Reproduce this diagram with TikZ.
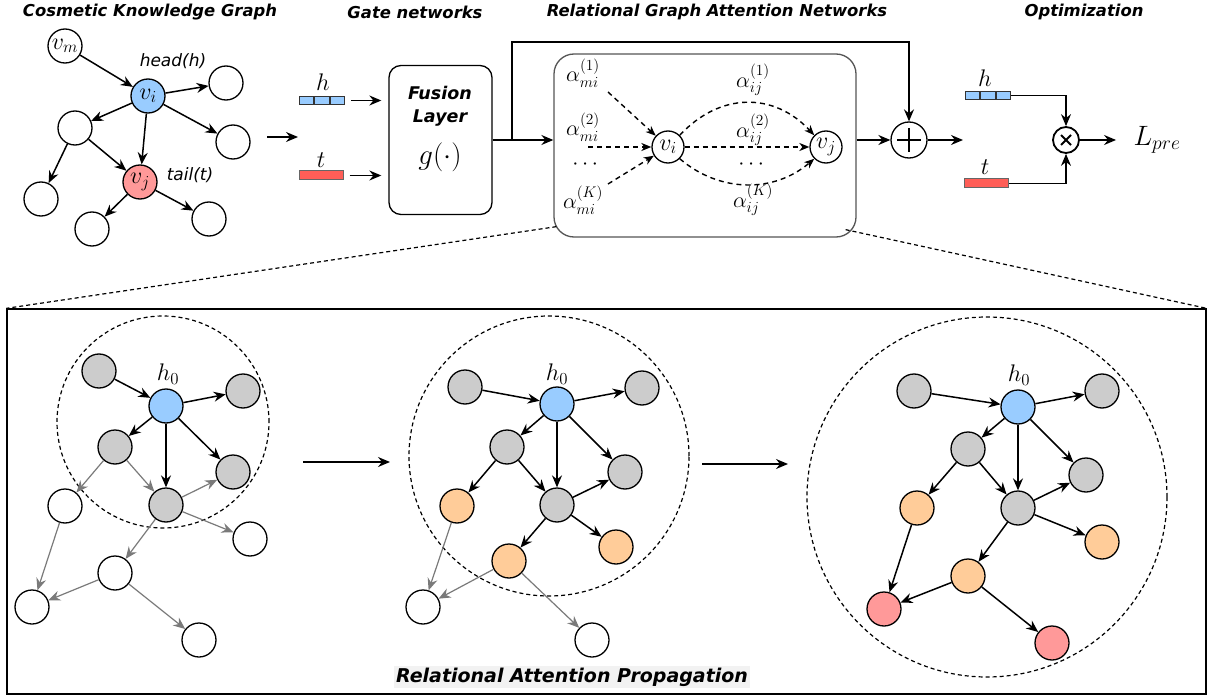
\RequirePackage{fix-cm}
\documentclass[tikz,border=0pt]{standalone}
\usepackage{amsmath}
\usepackage{fontspec}
\newfontfamily\labelfont{DejaVu Sans}[BoldFont={DejaVu Sans Bold},
  ItalicFont={DejaVu Sans Oblique},BoldItalicFont={DejaVu Sans Bold Oblique}]
\usepackage{tikz}
\usetikzlibrary{arrows.meta,positioning}

\definecolor{headblue}{HTML}{99CCFF}
\definecolor{tailred}{HTML}{FF9999}
\definecolor{barred}{HTML}{FF5E57}
\definecolor{hopgray}{HTML}{CCCCCC}
\definecolor{hoporange}{HTML}{FFCC99}
\definecolor{fadegray}{HTML}{7A7A7A}
\definecolor{boxgray}{HTML}{555555}
\definecolor{tagbg}{HTML}{F2F2F2}

\newcommand{\headfont}{\labelfont\bfseries\itshape\fontsize{16.4}{19}\selectfont}

\begin{document}
\begin{tikzpicture}[x=1pt,y=-1pt,>={Stealth[length=12pt,width=10pt,inset=4pt]},
  headline/.style={font=\headfont},
  kgnode/.style={circle,draw,line width=1.3pt,minimum size=34pt,inner sep=0pt,
    fill=white,font=\fontsize{24}{26}\selectfont},
  hop/.style={circle,draw,line width=1.3pt,minimum size=34pt,inner sep=0pt},
  kglink/.style={->,line width=1.5pt},
  fadelink/.style={->,line width=1.2pt,draw=fadegray},
  attn/.style={-{Stealth[length=10pt,width=8pt,inset=3pt]},line width=1.4pt,
    dash pattern=on 5pt off 4pt},
  ring/.style={circle,draw,line width=1.2pt,dash pattern=on 4pt off 3pt,inner sep=0pt},
  hcell/.style={draw=black!80,line width=1pt,fill=headblue,minimum width=14.5pt,
    minimum height=8pt,inner sep=0pt},
  tcell/.style={draw=black!60,line width=1pt,fill=barred,minimum width=44pt,
    minimum height=9pt,inner sep=0pt},
  mathtag/.style={font=\fontsize{24}{26}\selectfont,inner sep=0pt},
  alphatag/.style={font=\fontsize{22}{24}\selectfont,inner sep=0pt},
  sidetag/.style={font=\labelfont\itshape\fontsize{17}{20}\selectfont},
  boldtag/.style={font=\labelfont\bfseries\itshape\fontsize{17.5}{20}\selectfont}]
  \path[use as bounding box,fill=white] (0,0) rectangle (1208,698);

  % column titles
  \node[headline] (ttlkg) at (150,12) {Cosmetic Knowledge Graph};
  \node[headline] (ttlgate) at (415,12) {Gate networks};
  \node[headline] (ttlrgat) at (717,12) {Relational Graph Attention Networks};
  \node[headline] (ttlopt) at (1084,12) {Optimization};

  % knowledge graph
  \foreach \n/\x/\y/\c/\t in {vm/65/46/white/{$v_m$}, vi/148/96/headblue/{$v_i$},
    va/226/83/white/{}, vb/233/142/white/{}, vc/75/128/white/{},
    vj/140/182/tailred/{$v_j$}, vd/41/199/white/{}, ve/92/229/white/{},
    vf/209/219/white/{}}
    \node[kgnode,fill=\c] (\n) at (\x,\y) {\t};
  \foreach \a/\b in {vm/vi,vi/va,vi/vb,vi/vc,vi/vj,vc/vj,vc/vd,vj/ve,vj/vf}
    \draw[kglink] (\a) -- (\b);
  \node[sidetag] (headtag) at (173,61) {head(h)};
  \node[sidetag] (tailtag) at (190,175) {tail(t)};
  \coordinate (kgout) at (267,137);
  \coordinate (gatein) at (298,137);
  \draw[kglink] (kgout) -- (gatein);

  % gate networks
  \node[mathtag] (hname) at (323,82) {$h$};
  \node[hcell] (hc1) at (306.25,100.5) {};
  \node[hcell,right=0pt of hc1] (hc2) {};
  \node[hcell,right=0pt of hc2] (hc3) {};
  \node[mathtag] (tname) at (321,160) {$t$};
  \node[tcell] (tc) at (321,175.5) {};
  \node[draw,line width=1.3pt,rounded corners=12pt,minimum width=103pt,
    minimum height=149pt] (fusion) at (440.5,140) {};
  \node[boldtag] (fusetxt) at (440,93) {Fusion};
  \node[boldtag] (layertxt) at (440,118) {Layer};
  \node[font=\fontsize{29}{31}\selectfont] (gfun) at (440,157) {$g(\cdot)$};
  \draw[kglink,shorten <=6pt,shorten >=7pt] (hc3.east) -- (hc3.east -| fusion.west);
  \draw[kglink,shorten <=6pt,shorten >=7pt] (tc.east) -- (tc.east -| fusion.west);

  % relational graph attention
  \node[draw=boxgray,line width=1.3pt,rounded corners=20pt,minimum width=302pt,
    minimum height=183pt] (rgat) at (705,145.5) {};
  \draw[kglink] (fusion.east) -- (rgat.west |- fusion.east);
  \node[kgnode,minimum size=32pt] (ri) at (668,147) {$v_i$};
  \node[kgnode,minimum size=32pt] (rj) at (826,147) {$v_j$};
  \foreach \n/\x/\y/\t in {am1/583/73/{$\alpha_{mi}^{(1)}$},
    am2/583/127/{$\alpha_{mi}^{(2)}$}, amd/587/165/{$\cdots$},
    amk/583/200/{$\alpha_{mi}^{(K)}$}, aj1/753/80/{$\alpha_{ij}^{(1)}$},
    aj2/753/130/{$\alpha_{ij}^{(2)}$}, ajd/753/165/{$\cdots$},
    ajk/753/200/{$\alpha_{ij}^{(K)}$}}
    \node[alphatag] (\n) at (\x,\y) {\t};
  \coordinate (s1) at (608,92);
  \coordinate (s2) at (588,147);
  \coordinate (s3) at (608,184);
  \foreach \s in {s1,s2,s3}
    \draw[attn] (\s) -- (ri);
  \draw[attn] (ri) -- (rj);
  \draw[attn] (ri.north east) .. controls (720,92) and (774,92) .. (rj.north west);
  \draw[attn] (ri.south east) .. controls (720,193) and (774,193) .. (rj.south west);

  % optimization
  \node[circle,draw,line width=1.3pt,minimum size=36pt,inner sep=0pt] (oplus) at (909,140) {};
  \draw[line width=1.3pt] ([yshift=12pt]oplus.center) -- ([yshift=-12pt]oplus.center)
    ([xshift=-12pt]oplus.center) -- ([xshift=12pt]oplus.center);
  \draw[kglink] (rgat.east |- oplus.west) -- (oplus.west);
  \coordinate (split) at (512,140);
  \coordinate (bend) at (512,42);
  \draw[kglink] (split) -- (bend) -| (oplus.north);
  \coordinate (optin) at (963,140);
  \draw[kglink] (oplus.east) -- (optin);
  \node[mathtag] (hname2) at (985,78) {$h$};
  \node[hcell] (hd1) at (972.25,95.5) {};
  \node[hcell,right=0pt of hd1] (hd2) {};
  \node[hcell,right=0pt of hd2] (hd3) {};
  \node[mathtag] (tname2) at (985,167) {$t$};
  \node[tcell] (td) at (986.5,183.5) {};
  \node[circle,draw,line width=1.8pt,minimum size=26pt,inner sep=0pt] (otimes) at (1066,140) {};
  \draw[line width=2pt] ([shift={(-5,-5)}]otimes.center) -- ([shift={(5,5)}]otimes.center)
    ([shift={(-5,5)}]otimes.center) -- ([shift={(5,-5)}]otimes.center);
  \draw[kglink,line width=1.1pt] (hd3.east) -| (otimes.north);
  \draw[kglink,line width=1.1pt] (td.east) -| (otimes.south);
  \node[font=\fontsize{28}{30}\selectfont] (lpre) at (1157,140) {$L_{pre}$};
  \draw[kglink,shorten >=14pt] (otimes.east) -- (lpre.west);

  % propagation panel
  \node[draw,line width=1.3pt,minimum width=1199pt,minimum height=385pt,inner sep=0pt]
    (panel) at (606.5,501.5) {};
  \coordinate (zl) at ([xshift=3pt,yshift=11pt]rgat.south west);
  \coordinate (zr) at ([xshift=-11pt,yshift=8pt]rgat.south east);
  \draw[line width=1.2pt,dash pattern=on 4pt off 3pt] (zl) -- (panel.north west);
  \draw[line width=1.2pt,dash pattern=on 4pt off 3pt] (zr) -- (panel.north east);
  \node[ring,minimum size=212pt] (ringa) at (163,422) {};
  \node[ring,minimum size=280pt] (ringb) at (549,456) {};
  \node[ring,minimum size=360pt] (ringc) at (987,497) {};

  % first hop
  \foreach \n/\x/\y/\c in {a0/166/406/headblue, a1/99/371/hopgray, a2/243/391/hopgray,
    a3/115/447/hopgray, a4/233/472/hopgray, a5/166/505/hopgray, a6/65/506/white,
    a7/250/539/white, a8/115/573/white, a9/32/607/white, a10/199/640/white}
    \node[hop,fill=\c] (\n) at (\x,\y) {};
  \foreach \a/\b in {a1/a0,a0/a2,a0/a3,a0/a4,a0/a5}
    \draw[kglink] (\a) -- (\b);
  \foreach \a/\b in {a3/a6,a3/a5,a5/a4,a5/a7,a5/a8,a6/a9,a8/a9,a8/a10}
    \draw[fadelink] (\a) -- (\b);
  \node[mathtag] (hza) at (168,374) {$h_0$};

  % second hop
  \foreach \n/\x/\y/\c in {b0/557/404/headblue, b1/465/387/hopgray, b2/642/388/hopgray,
    b3/507/447/hopgray, b4/625/472/hopgray, b5/557/505/hopgray, b6/457/506/hoporange,
    b7/616/547/hoporange, b8/509/561/hoporange, b9/423/607/white, b10/592/640/white}
    \node[hop,fill=\c] (\n) at (\x,\y) {};
  \foreach \a/\b in {b1/b0,b0/b2,b0/b3,b0/b5,b0/b4,b3/b6,b3/b5,b5/b4,b5/b8,b5/b7}
    \draw[kglink] (\a) -- (\b);
  \foreach \a/\b in {b6/b9,b8/b9,b8/b10}
    \draw[fadelink] (\a) -- (\b);
  \node[mathtag] (hzb) at (557,374) {$h_0$};

  % third hop
  \foreach \n/\x/\y/\c in {c0/1018/407/headblue, c1/914/391/hopgray, c2/1102/391/hopgray,
    c3/968/449/hopgray, c4/1086/475/hopgray, c5/1018/508/hopgray, c6/917/508/hoporange,
    c7/1102/542/hoporange, c8/968/576/hoporange, c9/884/609/tailred, c10/1052/643/tailred}
    \node[hop,fill=\c] (\n) at (\x,\y) {};
  \foreach \a/\b in {c1/c0,c0/c2,c0/c3,c0/c5,c0/c4,c3/c6,c3/c5,c5/c4,c5/c7,c5/c8,
    c6/c9,c8/c9,c8/c10}
    \draw[kglink] (\a) -- (\b);
  \node[mathtag] (hzc) at (1019,375) {$h_0$};

  % steps between hops
  \coordinate (p1out) at (303,462);
  \coordinate (p2in) at (390,462);
  \coordinate (p2out) at (702,464);
  \coordinate (p3in) at (788,464);
  \draw[kglink] (p1out) -- (p2in);
  \draw[kglink] (p2out) -- (p3in);
  \node[fill=tagbg,inner sep=2pt,font=\labelfont\bfseries\itshape\fontsize{19}{22}\selectfont]
    (raptag) at (572,677) {Relational Attention Propagation};
\end{tikzpicture}
\end{document}
